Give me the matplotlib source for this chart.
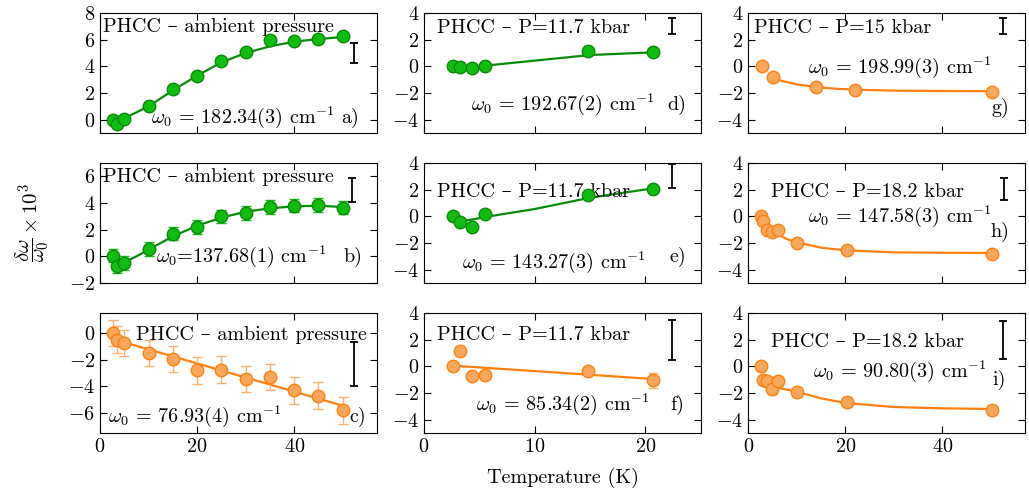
import matplotlib
matplotlib.use("Agg")
import matplotlib.pyplot as plt
import numpy as np

plt.rcParams['font.family'] = ['cmr10', 'DejaVu Serif']
plt.rcParams['mathtext.fontset'] = 'cm'
plt.rcParams['axes.formatter.use_mathtext'] = True
plt.rcParams['font.size'] = 13

GREEN_FILL = "#11bb11"
GREEN_EDGE = "#0a8a0a"
GREEN_LINE = "#0a8a0a"
ORANGE_FILL = "#f7a85c"
ORANGE_EDGE = "#ff8010"
ORANGE_LINE = "#ff8010"

# temperatures (K)
T_amb = [2.6, 3.5, 5, 10, 15, 20, 25, 30, 35, 40, 45, 50]
T_117 = [2.6, 3.2, 4.3, 5.5, 14.8, 20.7]
T_15 = [2.8, 5.2, 13.9, 22.0, 50.3]
T_182 = [2.6, 3.1, 3.9, 5.0, 6.1, 10.1, 20.3, 50.3]

# a) ambient, 182.34 cm-1
a_y = [0.0, -0.3, 0.05, 1.05, 2.3, 3.3, 4.4, 5.1, 5.95, 5.9, 6.05, 6.25]
a_fit_x = [5, 10, 15, 20, 25, 30, 35, 40, 45, 50]
a_fit_y = [0.1, 1.0, 2.2, 3.3, 4.3, 5.0, 5.5, 5.85, 6.05, 6.2]

# b) ambient, 137.68 cm-1
b_y = [0.05, -0.75, -0.5, 0.55, 1.7, 2.2, 3.0, 3.25, 3.7, 3.8, 3.85, 3.65]
b_err = [0.5] * 12
b_fit_x = [5, 7.5, 10, 15, 20, 25, 30, 35, 40, 45, 50]
b_fit_y = [-0.45, 0.0, 0.5, 1.5, 2.3, 2.9, 3.35, 3.6, 3.75, 3.8, 3.7]

# c) ambient, 76.93 cm-1
c_y = [0.0, -0.5, -0.75, -1.5, -1.95, -2.8, -2.75, -3.45, -3.3, -4.3, -4.7, -5.8]
c_err = [1.0] * 12
c_fit_x = [5, 50]
c_fit_y = [-0.7, -5.45]

# d) 11.7 kbar, 192.67 cm-1
d_y = [0.0, -0.05, -0.1, 0.05, 1.15, 1.05]
d_fit_x = [5.5, 10, 15, 20.7]
d_fit_y = [0.05, 0.43, 0.85, 1.05]

# e) 11.7 kbar, 143.27 cm-1
e_y = [0.0, -0.4, -0.8, 0.18, 1.58, 2.08]
e_fit_x = [3.2, 4.3, 5.5, 10, 15, 20.7]
e_fit_y = [-0.35, -0.25, -0.05, 0.55, 1.4, 2.1]

# f) 11.7 kbar, 85.34 cm-1
f_y = [0.0, 1.15, -0.75, -0.68, -0.33, -1.05]
f_err = [0.15, 0.15, 0.15, 0.15, 0.15, 0.55]
f_fit_x = [2.6, 20.7]
f_fit_y = [0.05, -0.95]

# g) 15 kbar, 198.99 cm-1
g_y = [0.0, -0.8, -1.55, -1.8, -1.92]
g_fit_x = [5, 7, 10, 14, 18, 22, 30, 40, 50]
g_fit_y = [-0.85, -1.1, -1.35, -1.55, -1.68, -1.75, -1.82, -1.85, -1.86]

# h) 18.2 kbar, 147.58 cm-1
h_y = [0.05, -0.38, -1.0, -1.18, -1.0, -2.0, -2.55, -2.8]
h_fit_x = [3, 4, 5, 6, 8, 10, 15, 20, 30, 40, 50]
h_fit_y = [-0.4, -0.8, -1.1, -1.35, -1.7, -1.95, -2.35, -2.55, -2.7, -2.73, -2.75]

# i) 18.2 kbar, 90.80 cm-1
i_y = [0.0, -1.0, -1.1, -1.7, -1.1, -1.93, -2.7, -3.3]
i_err = [0.35] * 8
i_fit_x = [4, 5, 6, 8, 10, 15, 20, 30, 40, 50]
i_fit_y = [-1.35, -1.5, -1.6, -1.75, -1.9, -2.4, -2.75, -3.05, -3.15, -3.2]

# instrument resolution bars: (x, centre, half-width)
ref_bars = {
    "a": (52.3, 5.0, 0.75), "b": (52.0, 5.0, 0.9), "c": (52.3, -2.33, 1.63),
    "d": (22.4, 3.0, 0.6), "e": (22.4, 3.0, 0.9), "f": (22.4, 1.97, 1.47),
    "g": (52.4, 3.0, 0.6), "h": (52.8, 2.05, 0.85), "i": (52.4, 1.98, 1.4),
}

panels = [
    # key, row, col, T, y, err, fitx, fity, colour, title, omega text, positions
    ("a", 0, 0, T_amb, a_y, None, a_fit_x, a_fit_y, "g", "PHCC – ambient pressure",
     r"$\omega_0$ = 182.34(3) cm$^{-1}$", (0.012, 0.844), (0.186, 0.081), (0.938, 0.081)),
    ("b", 1, 0, T_amb, b_y, b_err, b_fit_x, b_fit_y, "g", "PHCC – ambient pressure",
     r"$\omega_0$=137.68(1) cm$^{-1}$", (0.012, 0.839), (0.204, 0.178), (0.947, 0.178)),
    ("c", 2, 0, T_amb, c_y, c_err, c_fit_x, c_fit_y, "o", "PHCC – ambient pressure",
     r"$\omega_0$ = 76.93(4) cm$^{-1}$", (0.131, 0.775), (0.03, 0.094), (0.96, 0.094)),
    ("d", 0, 1, T_117, d_y, None, d_fit_x, d_fit_y, "g", "PHCC – P=11.7 kbar",
     r"$\omega_0$ = 192.67(2) cm$^{-1}$", (0.048, 0.831), (0.168, 0.192), (0.947, 0.192)),
    ("e", 1, 1, T_117, e_y, None, e_fit_x, e_fit_y, "g", "PHCC – P=11.7 kbar",
     r"$\omega_0$ = 143.27(3) cm$^{-1}$", (0.048, 0.719), (0.136, 0.122), (0.947, 0.178)),
    ("f", 2, 1, T_117, f_y, f_err, f_fit_x, f_fit_y, "o", "PHCC – P=11.7 kbar",
     r"$\omega_0$ = 85.34(2) cm$^{-1}$", (0.048, 0.775), (0.188, 0.19), (0.941, 0.19)),
    ("g", 0, 2, T_15, g_y, None, g_fit_x, g_fit_y, "o", "PHCC – P=15 kbar",
     r"$\omega_0$ = 198.99(3) cm$^{-1}$", (0.022, 0.831), (0.217, 0.497), (0.945, 0.164)),
    ("h", 1, 2, T_182, h_y, None, h_fit_x, h_fit_y, "o", "PHCC – P=18.2 kbar",
     r"$\omega_0$ = 147.58(3) cm$^{-1}$", (0.082, 0.719), (0.217, 0.511), (0.945, 0.386)),
    ("i", 2, 2, T_182, i_y, i_err, i_fit_x, i_fit_y, "o", "PHCC – P=18.2 kbar",
     r"$\omega_0$ = 90.80(3) cm$^{-1}$", (0.082, 0.719), (0.235, 0.469), (0.93, 0.40)),
]

ylims = {"a": (-1, 8), "b": (-2, 7), "c": (-7.5, 1.5)}
yticks = {"a": [0, 2, 4, 6, 8], "b": [-2, 0, 2, 4, 6], "c": [-6, -4, -2, 0]}
xlims = [(0, 57), (0, 25), (0, 57)]
xticks = [[0, 20, 40], [0, 10, 20], [0, 20, 40]]

fig, axes = plt.subplots(3, 3, figsize=(10.29, 4.97), dpi=100)
fig.subplots_adjust(left=0.0972, right=0.996, bottom=0.1288, top=0.9738,
                    wspace=0.171, hspace=0.25)

for (key, r, c, T, y, err, fx, fy, col, title, omtxt, tpos, opos, lpos) in panels:
    ax = axes[r, c]
    if col == "g":
        fill, edge, line = GREEN_FILL, GREEN_EDGE, GREEN_LINE
        ecol = GREEN_FILL
    else:
        fill, edge, line = ORANGE_FILL, ORANGE_EDGE, ORANGE_LINE
        ecol = "#f9b070"
    ax.plot(fx, fy, color=line, lw=1.6, zorder=2)
    if err is not None:
        ax.errorbar(T, y, yerr=err, fmt="none", ecolor=ecol, elinewidth=1.0,
                    capsize=3.5, capthick=1.0, zorder=3)
    ax.plot(T, y, "o", ms=9, mfc=fill, mec=edge, mew=1.0, zorder=4)
    bx, bc, bh = ref_bars[key]
    ax.errorbar([bx], [bc], yerr=[bh], fmt="none", ecolor="black",
                elinewidth=1.3, capsize=3, capthick=1.3, zorder=5)

    ax.set_xlim(*xlims[c])
    ax.set_xticks(xticks[c])
    ax.set_ylim(*ylims.get(key, (-5, 4)))
    ax.set_yticks(yticks.get(key, [-4, -2, 0, 2, 4]))
    ax.tick_params(direction="in", top=True, right=True, length=5, width=0.8,
                   labelsize=14.5)
    if r < 2:
        ax.tick_params(labelbottom=False)

    ax.text(tpos[0], tpos[1], title, transform=ax.transAxes, ha="left",
            va="baseline", fontsize=14.5)
    ax.text(opos[0], opos[1], omtxt, transform=ax.transAxes, ha="left",
            va="baseline", fontsize=14.5)
    ax.text(lpos[0], lpos[1], key + ")", transform=ax.transAxes, ha="right",
            va="baseline", fontsize=14.5)

fig.text(0.032, 0.553, r"$\dfrac{\delta\omega}{\omega_0}\times 10^3$", rotation=90,
         ha="center", va="center", fontsize=15)
fig.text(0.547, 0.038, "Temperature (K)", ha="center", va="center", fontsize=14.5)

plt.savefig("out.png", dpi=100)
